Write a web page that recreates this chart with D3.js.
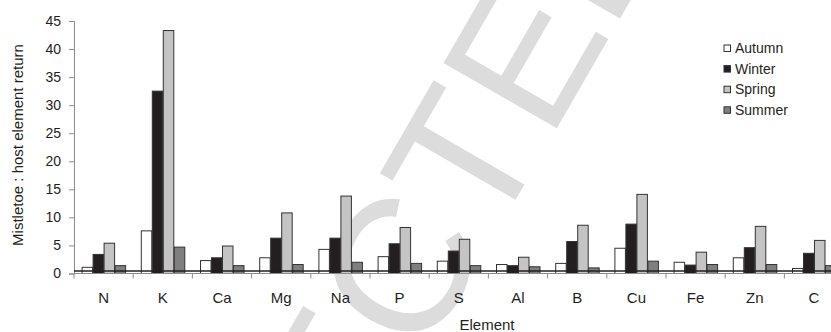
<!DOCTYPE html>
<html>
<head>
<meta charset="utf-8">
<script src="https://cdn.jsdelivr.net/npm/d3@7"></script>
<style>
  body { margin: 0; background: #fff; }
  svg { display: block; font-family: Arial, "Liberation Sans", sans-serif; }
</style>
</head>
<body>
<svg id="chart" width="831" height="332"></svg>
<script>
// element categories and the four seasonal series (mistletoe : host ratio)
var elements = ["N", "K", "Ca", "Mg", "Na", "P", "S", "Al", "B", "Cu", "Fe", "Zn", "C"];
var seasons = ["Autumn", "Winter", "Spring", "Summer"];
var autumn = [1.1, 7.6, 2.3, 2.8, 4.3, 3.0, 2.2, 1.6, 1.8, 4.5, 2.0, 2.8, 0.9];
var winter = [3.4, 32.5, 2.8, 6.3, 6.3, 5.3, 4.0, 1.4, 5.7, 8.8, 1.5, 4.6, 3.6];
var spring = [5.4, 43.3, 4.9, 10.8, 13.8, 8.2, 6.1, 2.9, 8.6, 14.1, 3.8, 8.4, 5.9];
var summer = [1.4, 4.7, 1.4, 1.6, 2.0, 1.8, 1.4, 1.2, 1.0, 2.2, 1.6, 1.6, 1.4];
var yTicks = [0, 5, 10, 15, 20, 25, 30, 35, 40, 45];
var refLine = 0.45;

var series = [autumn, winter, spring, summer];
var fills = ["#ffffff", "#231f20", "#c4c4c4", "#7f7f7f"];

var svg = d3.select("#chart");

// watermark first, so the chart is drawn over it
var wm = svg.append("text")
    .attr("font-size", 190)
    .attr("fill", "#dcdcdc")
    .text("UNCORRECTED PROOF");
var node = wm.node();
var tStart = node.getSubStringLength(0, 8);
var tHalf = node.getSubStringLength(8, 1) / 2;
var ang = -60 * Math.PI / 180;
var d = tStart + tHalf;
var ox = 520 - d * Math.cos(ang);
var oy = 192 - d * Math.sin(ang);
wm.attr("transform", "translate(" + ox + "," + oy + ") rotate(-60)");

var step = 59.2;
var x0 = d3.scaleBand()
    .domain(elements)
    .range([74, 74 + step * elements.length])
    .padding(0);

var x1 = d3.scaleBand()
    .domain(seasons)
    .range([7.6, step - 7.6]);

var y = d3.scaleLinear()
    .domain([0, 45])
    .range([273.5, 21]);

// bars
var groups = svg.append("g").selectAll("g")
    .data(elements)
    .enter()
    .append("g")
    .attr("transform", function(e) { return "translate(" + x0(e) + ",0)"; });

groups.selectAll("rect")
    .data(function(e, i) {
        return seasons.map(function(s, j) {
            return {season: s, value: series[j][i], color: fills[j]};
        });
    })
    .enter()
    .append("rect")
    .attr("x", function(d) { return x1(d.season) + 0.5; })
    .attr("y", function(d) { return y(d.value); })
    .attr("width", x1.bandwidth() - 0.5)
    .attr("height", function(d) { return y(0) - y(d.value); })
    .attr("fill", function(d) { return d.color; })
    .attr("stroke", "#333")
    .attr("stroke-width", 1);

// y axis
var yAxis = d3.axisLeft(y).tickValues(yTicks).tickSize(5).tickPadding(8);
var gy = svg.append("g")
    .attr("transform", "translate(74,0)")
    .call(yAxis);
gy.select(".domain").attr("stroke", "#8c8c8c");
gy.selectAll(".tick line").attr("stroke", "#8c8c8c");
gy.selectAll(".tick text")
    .attr("font-size", 14)
    .attr("fill", "#231f20")
    .attr("font-family", "Arial, 'Liberation Sans', sans-serif");

// x axis: tick marks at category boundaries
var xBound = d3.scaleLinear()
    .domain([0, elements.length])
    .range(x0.range());
var gx = svg.append("g")
    .attr("transform", "translate(0," + y(0) + ")");
gx.append("line")
    .attr("x1", 74).attr("x2", 831)
    .attr("stroke", "#8c8c8c");
gx.selectAll(".btick")
    .data(d3.range(elements.length + 1))
    .enter()
    .append("line")
    .attr("x1", function(i) { return xBound(i); })
    .attr("x2", function(i) { return xBound(i); })
    .attr("y1", 0).attr("y2", 5)
    .attr("stroke", "#8c8c8c");
gx.selectAll(".lab")
    .data(elements)
    .enter()
    .append("text")
    .attr("x", function(e) { return x0(e) + x0.bandwidth() / 2; })
    .attr("y", 29.5)
    .attr("text-anchor", "middle")
    .attr("font-size", 15)
    .attr("fill", "#231f20")
    .text(function(e) { return e; });

// dark horizontal line just above zero
svg.append("line")
    .attr("x1", 74).attr("x2", 831)
    .attr("y1", y(refLine)).attr("y2", y(refLine))
    .attr("stroke", "#231f20")
    .attr("stroke-width", 1.3);

// axis titles
svg.append("text")
    .attr("x", 487).attr("y", 330)
    .attr("text-anchor", "middle")
    .attr("font-size", 15)
    .attr("fill", "#231f20")
    .text("Element");

svg.append("text")
    .attr("transform", "translate(23,145) rotate(-90)")
    .attr("text-anchor", "middle")
    .attr("font-size", 15)
    .attr("fill", "#231f20")
    .text("Mistletoe : host element return");

// legend
var legend = svg.append("g").attr("transform", "translate(724,45)");
var lg = legend.selectAll("g")
    .data(seasons)
    .enter()
    .append("g")
    .attr("transform", function(s, i) { return "translate(0," + (i * 20.6) + ")"; });
lg.append("rect")
    .attr("width", 6.5).attr("height", 6.5)
    .attr("fill", function(s, i) { return fills[i]; })
    .attr("stroke", "#333");
lg.append("text")
    .attr("x", 11).attr("y", 8)
    .attr("font-size", 14)
    .attr("fill", "#231f20")
    .text(function(s) { return s; });
</script>
</body>
</html>
